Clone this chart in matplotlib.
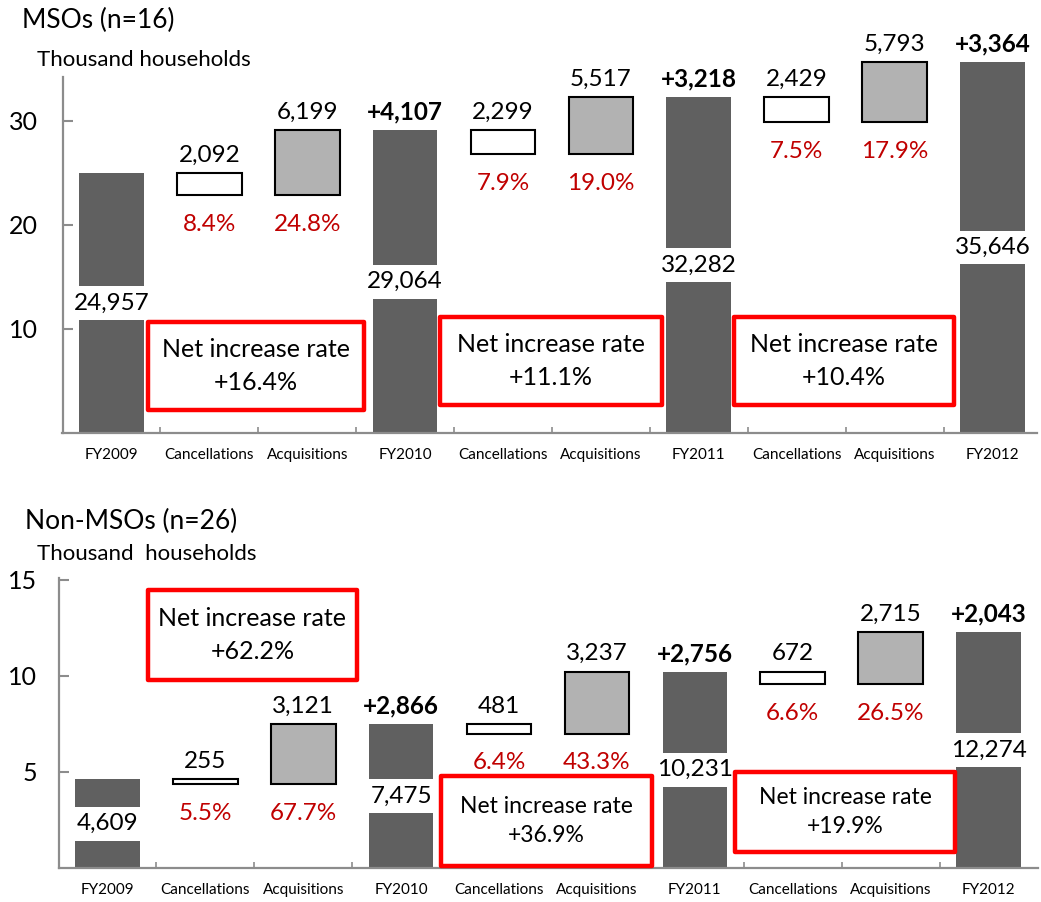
import numpy as np
import matplotlib.pyplot as plt
from matplotlib.patches import Rectangle

plt.rcParams['font.family'] = ['Lato', 'DejaVu Sans']

categories = ["FY2009", "Cancellations", "Acquisitions", "FY2010",
              "Cancellations", "Acquisitions", "FY2011",
              "Cancellations", "Acquisitions", "FY2012"]

# MSOs (n=16), thousand households
mso_totals = [24957, 29064, 32282, 35646]
mso_cancel = [2092, 2299, 2429]
mso_acq = [6199, 5517, 5793]
mso_cancel_rate = [8.4, 7.9, 7.5]
mso_acq_rate = [24.8, 19.0, 17.9]
mso_net_rate = [16.4, 11.1, 10.4]

# Non-MSOs (n=26)
non_totals = [4609, 7475, 10231, 12274]
non_cancel = [255, 481, 672]
non_acq = [3121, 3237, 2715]
non_cancel_rate = [5.5, 6.4, 6.6]
non_acq_rate = [67.7, 43.3, 26.5]
non_net_rate = [62.2, 36.9, 19.9]

# red "net increase rate" boxes: (x0, x1, y0, y1) in data units, font size
mso_boxes = [(0.37, 2.58, 2.2, 10.7), (3.36, 5.62, 2.7, 11.15), (6.36, 8.61, 2.7, 11.15)]
mso_box_fs = [18, 18, 18]
mso_box_ls = [1.55, 1.55, 1.55]
non_boxes = [(0.41, 2.55, 9.79, 14.48), (3.41, 5.56, 0.10, 4.79), (6.41, 8.66, 0.83, 5.0)]
non_box_fs = [18, 16.5, 16.5]
non_box_ls = [1.55, 1.45, 1.45]

DARK = "#606060"
ACQ = "#b2b2b2"
RED_TXT = "#c00000"
AXIS = "#8c8c8c"
W = 0.66


def draw_panel(ax, totals, cancel, acq, c_rate, a_rate, n_rate, boxes, box_fs, box_ls, ypad):
    for i, t in enumerate(totals):
        x = 3 * i
        ax.bar(x, t / 1000, width=W, color=DARK, zorder=2, clip_on=False)
        ax.text(x, t / 2000, f"{t:,}", ha="center", va="center", fontsize=17.5, zorder=3,
                bbox=dict(boxstyle="square,pad=0.26", fc="white", ec="none"))
        if i > 0:
            ax.annotate(f"+{t - totals[i - 1]:,}", (x, t / 1000), xytext=(0, 13),
                        textcoords="offset points", ha="center", va="center",
                        fontsize=17.5, fontweight="bold", annotation_clip=False)
    for i in range(3):
        start = totals[i] / 1000
        low = start - cancel[i] / 1000
        xc, xa = 3 * i + 1, 3 * i + 2
        ax.bar(xc, cancel[i] / 1000, bottom=low, width=W, color="white",
               edgecolor="black", linewidth=1.5, zorder=2, clip_on=False)
        ax.bar(xa, acq[i] / 1000, bottom=low, width=W, color=ACQ,
               edgecolor="black", linewidth=1.5, zorder=2, clip_on=False)
        ax.annotate(f"{cancel[i]:,}", (xc, start), xytext=(0, 13), textcoords="offset points",
                    ha="center", va="center", fontsize=17.5)
        ax.annotate(f"{acq[i]:,}", (xa, low + acq[i] / 1000), xytext=(0, 13),
                    textcoords="offset points", ha="center", va="center", fontsize=17.5,
                    annotation_clip=False)
        ax.annotate(f"{c_rate[i]:.1f}%", (xc, low), xytext=(0, -21), textcoords="offset points",
                    ha="center", va="center", fontsize=17.5, color=RED_TXT)
        ax.annotate(f"{a_rate[i]:.1f}%", (xa, low), xytext=(0, -21), textcoords="offset points",
                    ha="center", va="center", fontsize=17.5, color=RED_TXT)
        x0, x1, y0, y1 = boxes[i]
        ax.add_patch(Rectangle((x0, y0), x1 - x0, y1 - y0, fc="white", ec="#ff0000",
                               lw=3.2, joinstyle="round", zorder=4, clip_on=False))
        ax.text((x0 + x1) / 2, (y0 + y1) / 2, f"Net increase rate\n+{n_rate[i]:.1f}%",
                ha="center", va="center", fontsize=box_fs[i], linespacing=box_ls[i], zorder=5)

    ax.set_xticks(range(10))
    ax.set_xticklabels(categories, fontsize=11)
    ax.set_xticks(np.arange(0.5, 9, 1), minor=True)
    ax.tick_params(axis="x", which="major", length=0, pad=11)
    ax.tick_params(axis="x", which="minor", direction="in", length=4, width=1.2, color=AXIS)
    ax.tick_params(axis="y", direction="in", length=7, width=1.5, color=AXIS, labelsize=18, pad=ypad)
    for s in ("top", "right"):
        ax.spines[s].set_visible(False)
    for s in ("left", "bottom"):
        ax.spines[s].set_color(AXIS)
        ax.spines[s].set_linewidth(1.6)


fig = plt.figure(figsize=(10.41, 9.02), dpi=100)

ax1 = fig.add_axes([62.5 / 1041, 1 - 433 / 902, 974 / 1041, 356 / 902])
draw_panel(ax1, mso_totals, mso_cancel, mso_acq, mso_cancel_rate, mso_acq_rate,
           mso_net_rate, mso_boxes, mso_box_fs, mso_box_ls, 18)
ax1.set_xlim(-0.5, 9.45)
ax1.set_ylim(0, 34.2)
ax1.set_yticks([10, 20, 30])

ax2 = fig.add_axes([58.5 / 1041, 1 - 868 / 902, 979 / 1041, 290 / 902])
draw_panel(ax2, non_totals, non_cancel, non_acq, non_cancel_rate, non_acq_rate,
           non_net_rate, non_boxes, non_box_fs, non_box_ls, 15.5)
ax2.set_xlim(-0.5, 9.5)
ax2.set_ylim(0, 15.1)
ax2.set_yticks([5, 10, 15])

fig.text(22 / 1041, 1 - 20 / 902, "MSOs (n=16)", fontsize=19, ha="left", va="center")
fig.text(37 / 1041, 1 - 60 / 902, "Thousand households", fontsize=16, ha="left", va="center")
fig.text(25 / 1041, 1 - 521 / 902, "Non-MSOs (n=26)", fontsize=19, ha="left", va="center")
fig.text(37 / 1041, 1 - 554 / 902, "Thousand  households", fontsize=16, ha="left", va="center")

fig.savefig("out.png", dpi=100)
